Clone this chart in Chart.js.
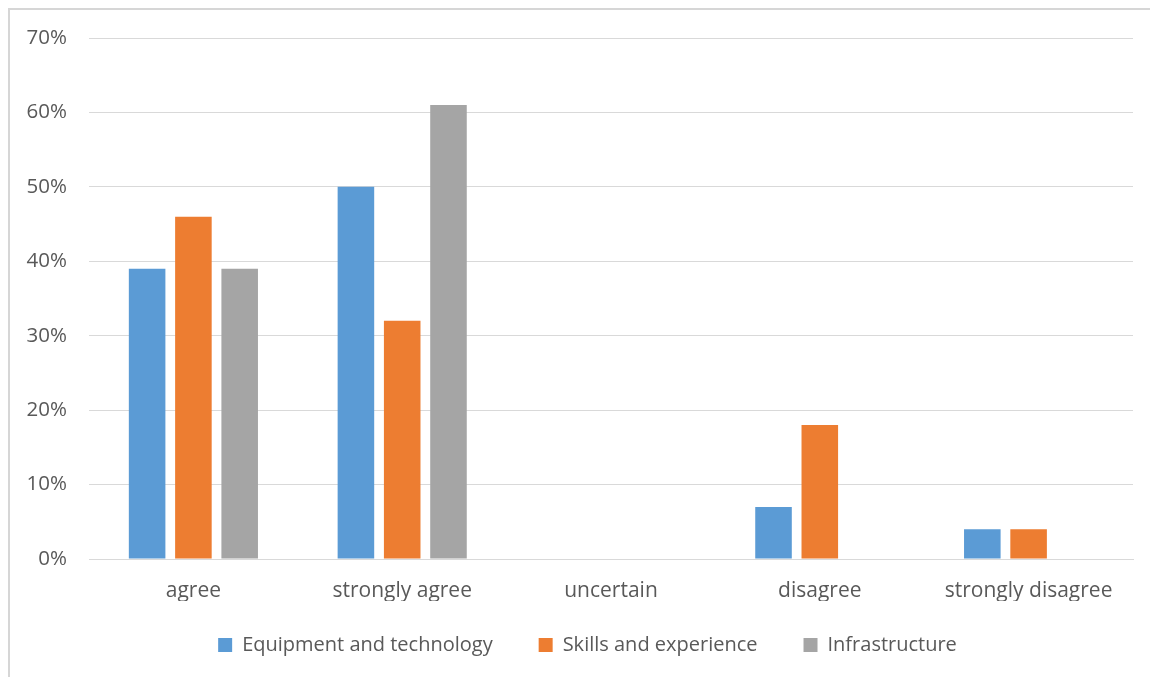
<!DOCTYPE html>
<html lang="en">
<head>
    <meta charset="UTF-8">
    <title>Survey responses</title>
    <script src="https://cdn.jsdelivr.net/npm/chart.js"></script>
    <style>
        body {
            margin: 0;
            background: #ffffff;
        }

        .moldura {
            position: absolute;
            left: 8px;
            top: 8px;
            width: 1140px;
            height: 667px;
            border-left: 2px solid #d6d6d6;
            border-top: 2px solid #d6d6d6;
        }
    </style>
</head>

<body>
    <div class="moldura">
        <canvas id="graficoBarras" width="1140" height="667"></canvas>
    </div>

    <script>
        // categorias e valores (%)
        const categorias = ["agree", "strongly agree", "uncertain", "disagree", "strongly disagree"];
        const equipamento = [39, 50, 0, 7, 4];
        const habilidades = [46, 32, 0, 18, 4];
        const infraestrutura = [39, 61, 0, 0, 0];
        const nomesSeries = ["Equipment and technology", "Skills and experience", "Infrastructure"];

        const fonte = "'Open Sans', sans-serif";
        const corTexto = "#595959";

        function serie(nome, dados, cor) {
            return {
                label: nome,
                data: dados,
                backgroundColor: cor,
                borderWidth: 0,
                categoryPercentage: 0.665,
                barPercentage: 0.79
            };
        }

        // sobe um pouco a legenda e centraliza melhor
        const moverLegenda = {
            id: 'moverLegenda',
            afterLayout(chart) {
                const leg = chart.legend;
                leg.top -= 12;
                leg.bottom -= 12;
                leg.left += 16;
                leg.right += 16;
            }
        };

        const config = {
            type: 'bar',
            data: {
                labels: categorias,
                datasets: [
                    serie(nomesSeries[0], equipamento, '#5B9BD5'),
                    serie(nomesSeries[1], habilidades, '#ED7D31'),
                    serie(nomesSeries[2], infraestrutura, '#A5A5A5')
                ]
            },
            plugins: [moverLegenda],
            options: {
                responsive: false,
                animation: false,
                layout: {
                    padding: { left: 0, right: 17, top: 28, bottom: 0 }
                },
                plugins: {
                    tooltip: { enabled: false },
                    legend: {
                        position: 'bottom',
                        labels: {
                            color: corTexto,
                            font: { family: fonte, size: 20 },
                            boxWidth: 14,
                            boxHeight: 14,
                            padding: 46
                        }
                    }
                },
                scales: {
                    x: {
                        afterFit: function (escala) {
                            escala.height = 42;
                        },
                        grid: { display: false, drawTicks: false },
                        border: { display: true, color: '#d9d9d9', width: 1 },
                        ticks: {
                            color: corTexto,
                            font: { family: fonte, size: 21 },
                            padding: 19
                        }
                    },
                    y: {
                        min: 0,
                        max: 70,
                        afterFit: function (escala) {
                            escala.width = 79;
                        },
                        grid: {
                            color: '#d9d9d9',
                            drawTicks: true,
                            tickLength: 20,
                            tickColor: 'rgba(0,0,0,0)'
                        },
                        border: { display: false },
                        ticks: {
                            stepSize: 10,
                            color: corTexto,
                            font: { family: fonte, size: 20.5 },
                            padding: 2,
                            callback: function (valor) {
                                return valor + '%';
                            }
                        }
                    }
                }
            }
        };

        let grafico = new Chart(
            document.getElementById('graficoBarras'),
            config
        );
    </script>
</body>

</html>
